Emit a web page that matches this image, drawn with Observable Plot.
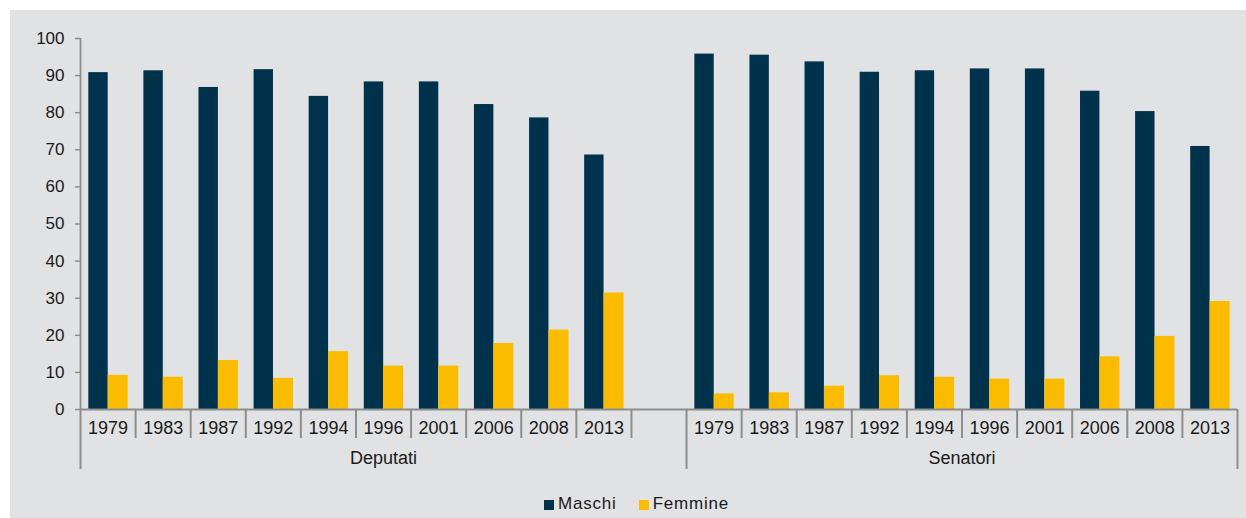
<!DOCTYPE html>
<html>
<head>
<meta charset="utf-8">
<script src="https://cdn.jsdelivr.net/npm/d3@7"></script>
<script src="https://cdn.jsdelivr.net/npm/@observablehq/plot@0.6"></script>
<style>
  html, body { margin: 0; padding: 0; background: #ffffff; }
  #wrap { position: absolute; left: 10px; top: 10px; width: 1236px; height: 508px; background: #e1e2e4; overflow: hidden; }
  #chart { position: absolute; left: 0; top: 0; }
  #legend { position: absolute; left: 534px; top: 484px; display: flex; align-items: center;
            font-family: "Liberation Sans", Arial, sans-serif; font-size: 17px; color: #1a1a1a; letter-spacing: 0.8px; }
  .item { display: flex; align-items: center; }
  .sw { width: 10px; height: 10px; margin-right: 4px; margin-top: 2px; }
</style>
</head>
<body>
<div id="wrap">
  <div id="chart"></div>
  <div id="legend"></div>
</div>
<script>
// ---- data ----
const years = ["1979", "1983", "1987", "1992", "1994", "1996", "2001", "2006", "2008", "2013"];
const groups = ["Deputati", "Senatori"];
const series = ["Maschi", "Femmine"];
const colors = ["#00324b", "#fbbc00"];
const deputatiMaschi  = [90.8, 91.3, 86.8, 91.6, 84.4, 88.3, 88.3, 82.2, 78.6, 68.6];
const deputatiFemmine = [9.2, 8.7, 13.2, 8.4, 15.6, 11.7, 11.7, 17.8, 21.4, 31.4];
const senatoriMaschi  = [95.8, 95.5, 93.7, 90.9, 91.3, 91.8, 91.8, 85.8, 80.3, 70.9];
const senatoriFemmine = [4.2, 4.5, 6.3, 9.1, 8.7, 8.2, 8.2, 14.2, 19.7, 29.1];
const yTicks = [0, 10, 20, 30, 40, 50, 60, 70, 80, 90, 100];

// ---- build table (Deputati has an empty trailing category, as in the original) ----
const groupSlots = [years.length + 1, years.length]; // 11 slots, 10 slots
const groupStart = [0, groupSlots[0]];
const nSlots = groupSlots[0] + groupSlots[1];
const values = {
  Deputati: {Maschi: deputatiMaschi, Femmine: deputatiFemmine},
  Senatori: {Maschi: senatoriMaschi, Femmine: senatoriFemmine}
};
const rows = [];
const yearLabels = [];
groups.forEach((g, gi) => {
  years.forEach((yr, i) => {
    const slot = groupStart[gi] + i;
    yearLabels.push({slot, year: yr});
    series.forEach(s => rows.push({group: g, year: yr, slot, sex: s, value: values[g][s][i]}));
  });
});
const groupLabels = groups.map((g, gi) => ({group: g, mid: groupStart[gi] + groupSlots[gi] / 2}));
const longTicks = [0, groupStart[1], nSlots];
const shortTicks = d3.range(1, nSlots).filter(b => !longTicks.includes(b));

const axisColor = "#8d8d8d";
const textColor = "#1a1a1a";

const chart = Plot.plot({
  width: 1236,
  height: 470,
  marginLeft: 70,
  marginRight: 9,
  marginTop: 28,
  marginBottom: 71,
  style: {background: "transparent", fontFamily: "'Liberation Sans', Arial, sans-serif", fontSize: "17px", color: textColor, overflow: "visible"},
  x: {domain: [0, nSlots], axis: null},
  y: {domain: [0, 100], axis: null},
  color: {domain: series, range: colors},
  marks: [
    Plot.rectY(rows.filter(d => d.sex === "Maschi"), {x1: "slot", x2: d => d.slot + 1, y: "value", fill: "sex", insetLeft: 8.3, insetRight: 27.4}),
    Plot.rectY(rows.filter(d => d.sex === "Femmine"), {x1: "slot", x2: d => d.slot + 1, y: "value", fill: "sex", insetLeft: 27.7, insetRight: 7.4}),
    // y axis
    Plot.ruleX([0], {y1: 0, y2: 100, stroke: axisColor, strokeWidth: 1.8}),
    Plot.ruleY(yTicks, {x1: 0, x2: 0, insetLeft: -5, stroke: axisColor, strokeWidth: 1.5}),
    Plot.text(yTicks, {x: 0, y: d => d, text: d => String(d), textAnchor: "end", dx: -16, fill: textColor, fontSize: 17}),
    // category axis
    Plot.ruleY([0], {stroke: axisColor, strokeWidth: 2}),
    Plot.ruleX(shortTicks, {x: d => d, y1: 0, y2: 0, insetBottom: -29, stroke: axisColor, strokeWidth: 2}),
    Plot.ruleX(longTicks, {x: d => d, y1: 0, y2: 0, insetBottom: -60, stroke: axisColor, strokeWidth: 2}),
    Plot.text(yearLabels, {x: d => d.slot + 0.5, y: 0, text: "year", dy: 19, fill: textColor, fontSize: 18, letterSpacing: "0.6px"}),
    Plot.text(groupLabels, {x: "mid", y: 0, text: "group", dy: 49, fill: textColor, fontSize: 18, letterSpacing: "0.5px"})
  ]
});
document.getElementById("chart").appendChild(chart);

// legend
const legend = document.getElementById("legend");
series.forEach((s, i) => {
  const item = document.createElement("div");
  item.className = "item";
  if (i > 0) item.style.marginLeft = "22px";
  const sw = document.createElement("div");
  sw.className = "sw";
  sw.style.background = colors[i];
  const t = document.createElement("span");
  t.textContent = s;
  item.appendChild(sw);
  item.appendChild(t);
  legend.appendChild(item);
});
</script>
</body>
</html>
